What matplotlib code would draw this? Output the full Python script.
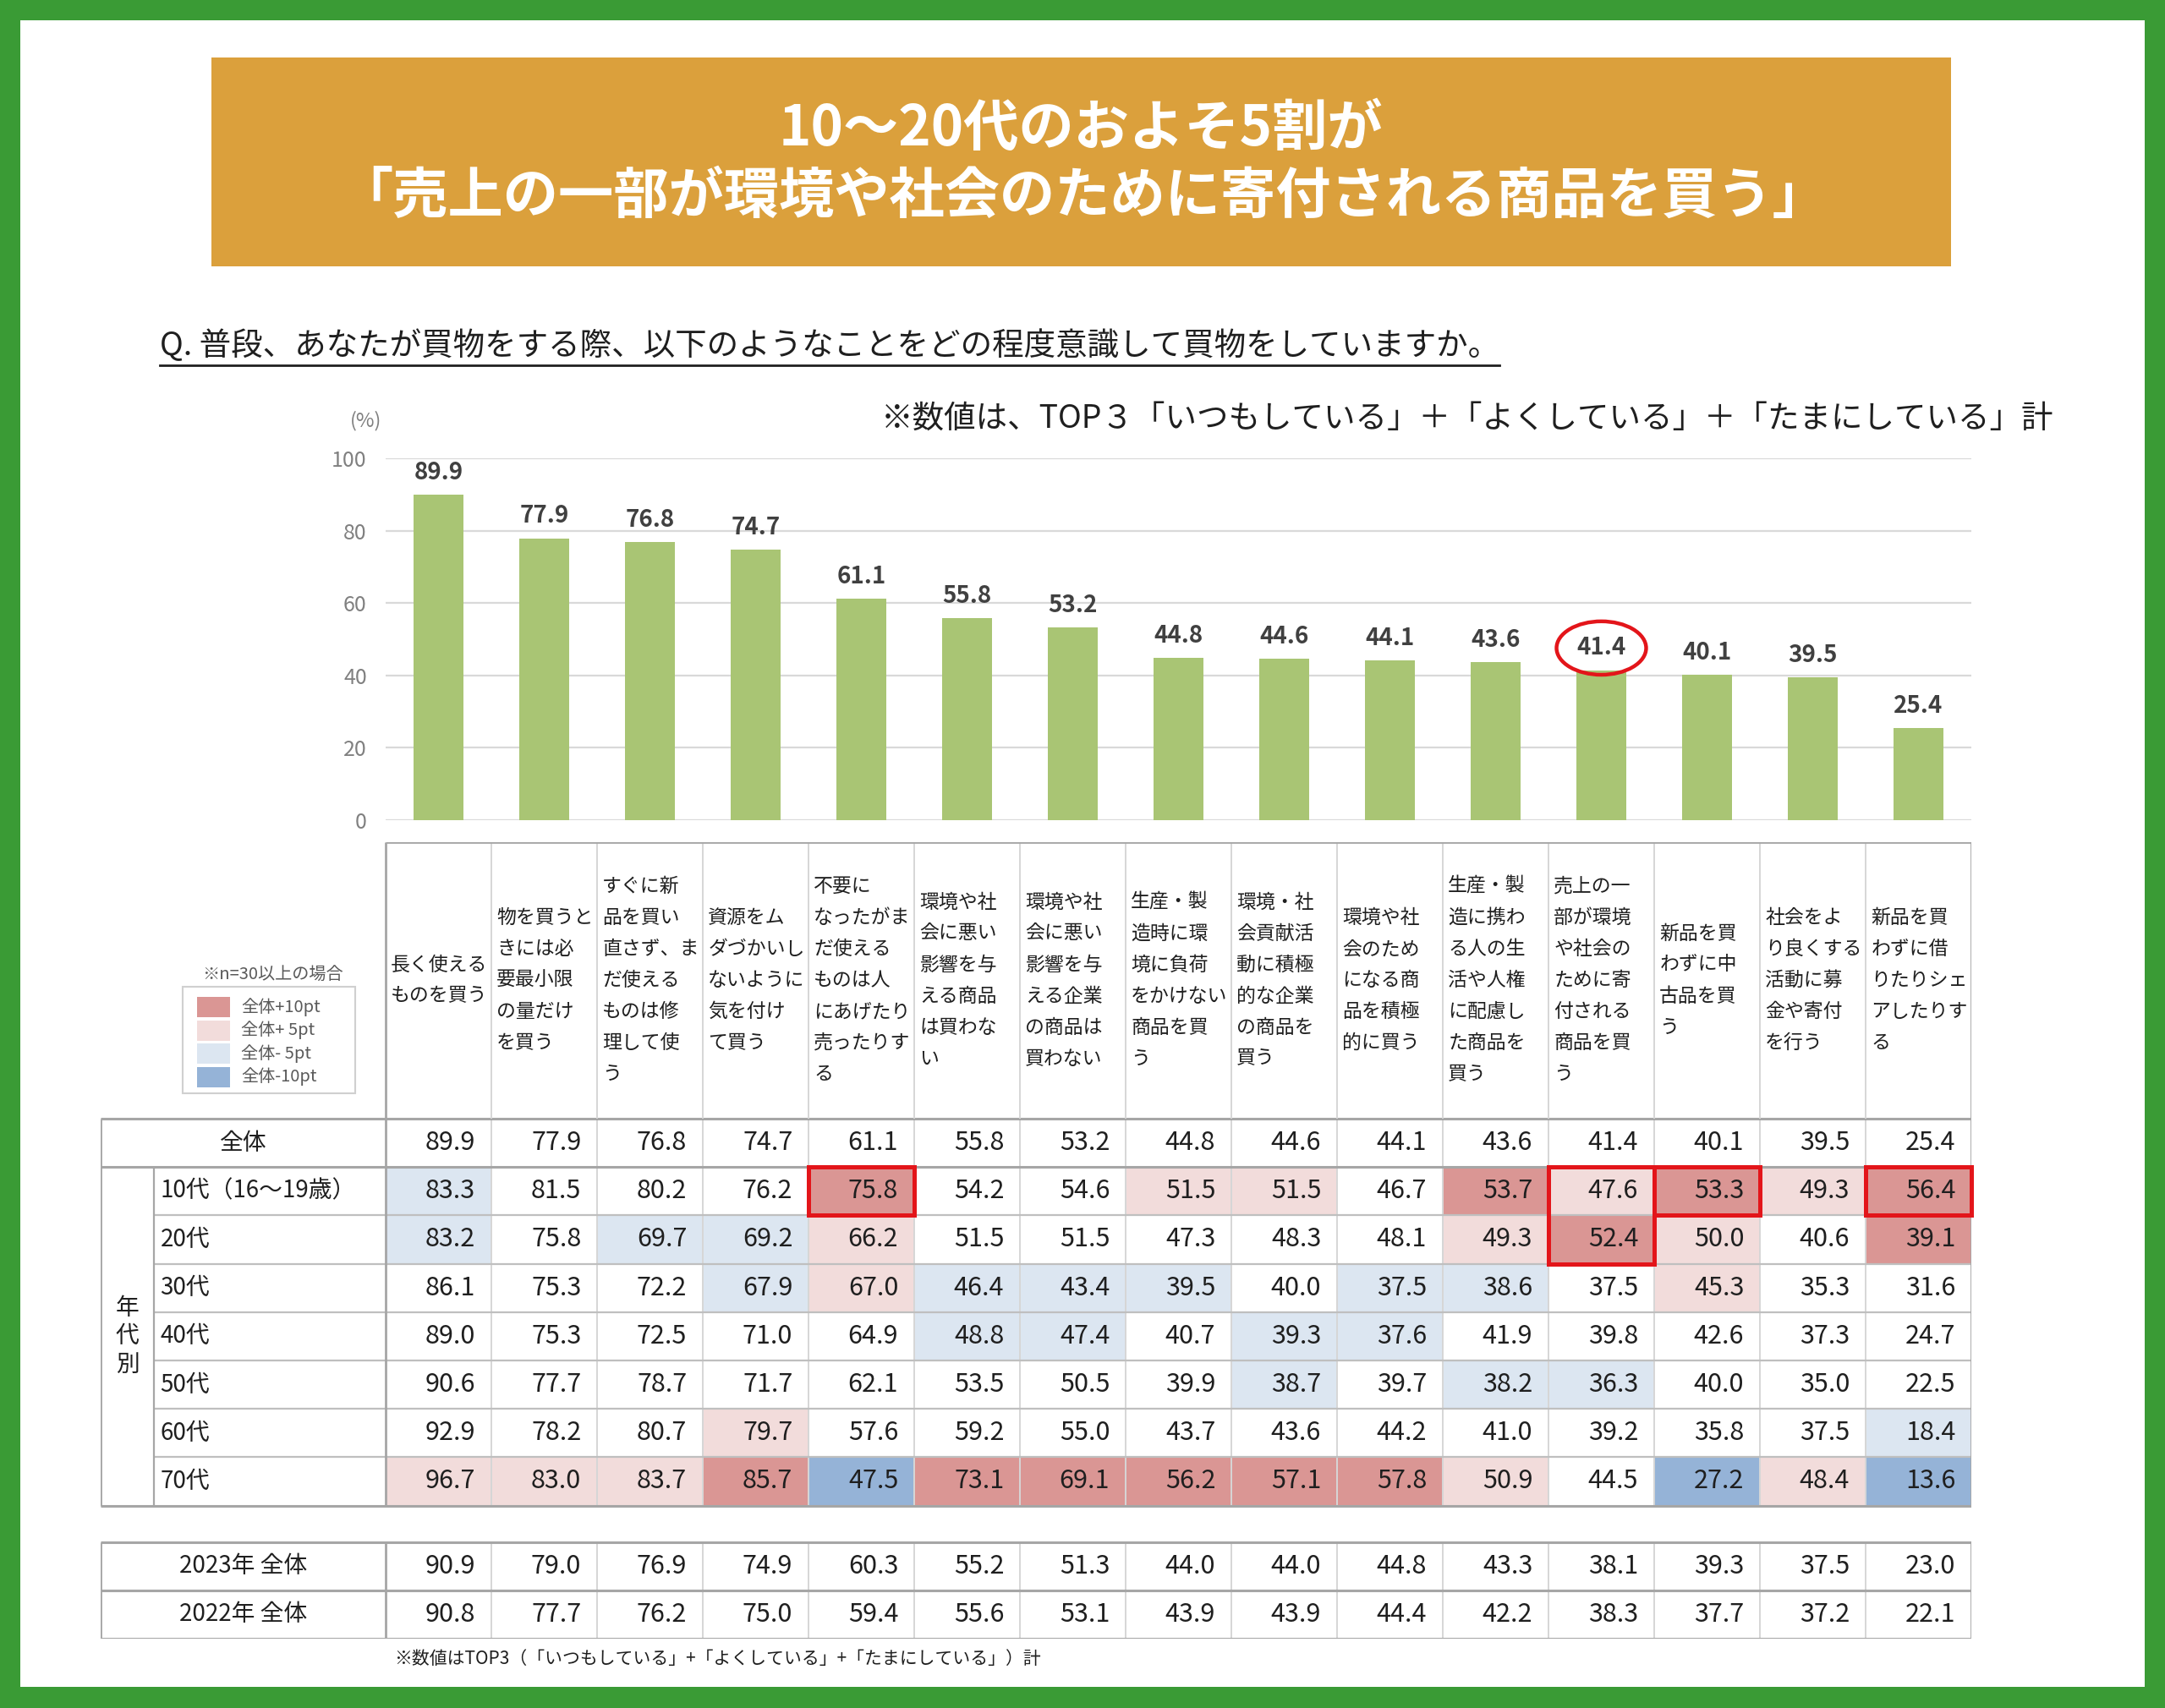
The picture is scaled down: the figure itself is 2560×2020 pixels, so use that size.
import matplotlib
matplotlib.use('Agg')
import matplotlib.pyplot as plt
from matplotlib.patches import Rectangle

plt.rcParams['font.family'] = ['Noto Sans CJK JP', 'DejaVu Sans']

# ---- data ----
items = [
    '長く使える\nものを買う',
    '物を買うと\nきには必\n要最小限\nの量だけ\nを買う',
    'すぐに新\n品を買い\n直さず、ま\nだ使える\nものは修\n理して使\nう',
    '資源をム\nダづかいし\nないように\n気を付け\nて買う',
    '不要に\nなったがま\nだ使える\nものは人\nにあげたり\n売ったりす\nる',
    '環境や社\n会に悪い\n影響を与\nえる商品\nは買わな\nい',
    '環境や社\n会に悪い\n影響を与\nえる企業\nの商品は\n買わない',
    '生産・製\n造時に環\n境に負荷\nをかけない\n商品を買\nう',
    '環境・社\n会貢献活\n動に積極\n的な企業\nの商品を\n買う',
    '環境や社\n会のため\nになる商\n品を積極\n的に買う',
    '生産・製\n造に携わ\nる人の生\n活や人権\nに配慮し\nた商品を\n買う',
    '売上の一\n部が環境\nや社会の\nために寄\n付される\n商品を買\nう',
    '新品を買\nわずに中\n古品を買\nう',
    '社会をよ\nり良くする\n活動に募\n金や寄付\nを行う',
    '新品を買\nわずに借\nりたりシェ\nアしたりす\nる',
]

total = [89.9, 77.9, 76.8, 74.7, 61.1, 55.8, 53.2, 44.8, 44.6, 44.1, 43.6, 41.4, 40.1, 39.5, 25.4]

age_labels = ['10代（16～19歳）', '20代', '30代', '40代', '50代', '60代', '70代']
age_values = [
    [83.3, 81.5, 80.2, 76.2, 75.8, 54.2, 54.6, 51.5, 51.5, 46.7, 53.7, 47.6, 53.3, 49.3, 56.4],
    [83.2, 75.8, 69.7, 69.2, 66.2, 51.5, 51.5, 47.3, 48.3, 48.1, 49.3, 52.4, 50.0, 40.6, 39.1],
    [86.1, 75.3, 72.2, 67.9, 67.0, 46.4, 43.4, 39.5, 40.0, 37.5, 38.6, 37.5, 45.3, 35.3, 31.6],
    [89.0, 75.3, 72.5, 71.0, 64.9, 48.8, 47.4, 40.7, 39.3, 37.6, 41.9, 39.8, 42.6, 37.3, 24.7],
    [90.6, 77.7, 78.7, 71.7, 62.1, 53.5, 50.5, 39.9, 38.7, 39.7, 38.2, 36.3, 40.0, 35.0, 22.5],
    [92.9, 78.2, 80.7, 79.7, 57.6, 59.2, 55.0, 43.7, 43.6, 44.2, 41.0, 39.2, 35.8, 37.5, 18.4],
    [96.7, 83.0, 83.7, 85.7, 47.5, 73.1, 69.1, 56.2, 57.1, 57.8, 50.9, 44.5, 27.2, 48.4, 13.6],
]

year_labels = ['2023年 全体', '2022年 全体']
year_values = [
    [90.9, 79.0, 76.9, 74.9, 60.3, 55.2, 51.3, 44.0, 44.0, 44.8, 43.3, 38.1, 39.3, 37.5, 23.0],
    [90.8, 77.7, 76.2, 75.0, 59.4, 55.6, 53.1, 43.9, 43.9, 44.4, 42.2, 38.3, 37.7, 37.2, 22.1],
]

# (first age row, last age row + 1, column) of the red frames
highlights = [(0, 1, 4), (0, 2, 11), (0, 1, 12), (0, 1, 14)]
# cells left unshaded in the original (age row, column)
no_shade = [(2, 14)]
circled = 11

legend_labels = ['全体+10pt', '全体+ 5pt', '全体- 5pt', '全体-10pt']
legend_colors = ['#DA9694', '#F2DCDB', '#DCE6F1', '#95B3D7']


def cell_color(v, base):
    d = round(v - base, 1)
    if d >= 10:
        return legend_colors[0]
    if d >= 5:
        return legend_colors[1]
    if d <= -10:
        return legend_colors[3]
    if d <= -5:
        return legend_colors[2]
    return None


W, H = 2560, 2020
GREEN = '#3A9B35'
RED = '#E3151A'
TXT = '#1F1F1F'

fig = plt.figure(figsize=(W / 100, H / 100), dpi=100)

# ---- page decorations (pixel coords) ----
page = fig.add_axes([0, 0, 1, 1])
page.set_xlim(0, W)
page.set_ylim(H, 0)
page.axis('off')
page.add_patch(Rectangle((0, 0), W, H, fc=GREEN, ec='none'))
page.add_patch(Rectangle((24, 24), W - 48, 1995 - 24, fc='white', ec='none'))
page.add_patch(Rectangle((250, 68), 2057, 247, fc='#DBA03C', ec='none'))
page.text(1278, 152, '10～20代のおよそ5割が', ha='center', va='center',
          fontsize=47, fontweight='bold', color='white')
page.text(1280, 232, '「売上の一部が環境や社会のために寄付される商品を買う」', ha='center',
          va='center', fontsize=47, fontweight='bold', color='white')

q = page.text(189, 410, 'Q. 普段、あなたが買物をする際、以下のようなことをどの程度意識して買物をしていますか。',
              ha='left', va='center', fontsize=27, color=TXT)
page.text(2428, 495, '※数値は、TOP３「いつもしている」＋「よくしている」＋「たまにしている」計',
          ha='right', va='center', fontsize=27, color=TXT)
page.text(433, 498, '(%)', ha='center', va='center', fontsize=17, color='#808080')

# legend
page.text(322, 1153, '※n=30以上の場合', ha='center', va='center', fontsize=14.5, color='#595959')
page.add_patch(Rectangle((216, 1167), 204, 126, fc='white', ec='#D0D0D0', lw=1.5))
for k, (lab, col) in enumerate(zip(legend_labels, legend_colors)):
    page.add_patch(Rectangle((233, 1179 + 27.5 * k), 39, 24, fc=col, ec='none'))
    page.text(285, 1191 + 27.5 * k, lab, ha='left', va='center', fontsize=14.5, color='#595959')

page.text(466, 1962, '※数値はTOP3（「いつもしている」+「よくしている」+「たまにしている」）計',
          ha='left', va='center', fontsize=15, color=TXT)

# ---- bar chart ----
ax = fig.add_axes([456 / W, 1 - 970 / H, 1875 / W, 428 / H])
ax.patch.set_alpha(0)
x = list(range(len(total)))
ax.bar(x, total, width=0.47, color='#A9C574', zorder=2)
ax.set_xlim(-0.5, len(total) - 0.5)
ax.set_ylim(0, 100)
ax.set_yticks(range(0, 101, 20))
ax.set_xticks([])
ax.grid(axis='y', color='#D9D9D9', lw=1.6)
ax.set_axisbelow(True)
for s in ax.spines.values():
    s.set_visible(False)
ax.tick_params(axis='y', length=0, pad=16, labelsize=18, labelcolor='#808080')
for i, v in enumerate(total):
    kw = {}
    if i == circled:
        kw['bbox'] = dict(boxstyle='ellipse,pad=0.3', fc='none', ec=RED, lw=3.2)
    ax.annotate(f'{v:.1f}', (i, v), xytext=(0, 19), textcoords='offset points',
                ha='center', va='center', fontsize=20, fontweight='bold',
                color='#404040', **kw)

# ---- table ----
ROW_PX = 57.2
HEAD = 327 / ROW_PX
GAP = 43 / ROW_PX
LW = (456 - 119) / 125
AGE_W = 63 / 125
n_age = len(age_values)
y_year = HEAD + 1 + n_age + GAP
y_end = y_year + len(year_values)
ncol = len(total)

tax = fig.add_axes([119 / W, 1 - 1938 / H, (2331 - 119) / W, (1938 - 996) / H])
tax.set_xlim(-LW, ncol)
tax.set_ylim(y_end, 0)
tax.axis('off')

dark = '#A6A6A6'
light = '#D6D6D6'

# header
for i, txt in enumerate(items):
    lines = txt.split('\n')
    n = len(lines)
    for j, line in enumerate(lines):
        yy = HEAD / 2 + (j - (n - 1) / 2) * 0.647
        tax.text(i + 0.05, yy, line, ha='left', va='center', fontsize=16.5, color=TXT)

# cell fills
for r, row in enumerate(age_values):
    for c, v in enumerate(row):
        col = cell_color(v, total[c])
        if col and (r, c) not in no_shade:
            tax.add_patch(Rectangle((c, HEAD + 1 + r), 1, 1, fc=col, ec='none', zorder=0))


def put_row(y, label, vals, lx, ha):
    tax.text(lx, y + 0.5, label, ha=ha, va='center', fontsize=20, color=TXT)
    for c, v in enumerate(vals):
        tax.text(c + 0.85, y + 0.5, f'{v:.1f}', ha='right', va='center', fontsize=22, color=TXT)


put_row(HEAD, '全体', total, -LW / 2, 'center')
for r, (lab, vals) in enumerate(zip(age_labels, age_values)):
    put_row(HEAD + 1 + r, lab, vals, -LW + AGE_W + 0.06, 'left')
for r, (lab, vals) in enumerate(zip(year_labels, year_values)):
    put_row(y_year + r, lab, vals, -LW / 2, 'center')
tax.text(-LW + AGE_W / 2, HEAD + 1 + n_age / 2, '年\n代\n別', ha='center', va='center',
         fontsize=20, color=TXT, linespacing=1.15)

# grid lines
tax.vlines(range(1, ncol), 0, HEAD, color=light, lw=1.4)
tax.vlines([0, ncol], 0, HEAD, color=dark, lw=2)
tax.hlines(0, 0, ncol, color=dark, lw=2)
tax.vlines(range(1, ncol), HEAD, HEAD + 1 + n_age, color=light, lw=1.4, zorder=1)
tax.hlines([HEAD + 1 + k for k in range(1, n_age)], -LW + AGE_W, ncol, color='#BFBFBF', lw=1.6, zorder=1)
tax.hlines([HEAD, HEAD + 1, HEAD + 1 + n_age], -LW, ncol, color=dark, lw=2.2, zorder=1)
tax.vlines([-LW, 0, ncol], HEAD, HEAD + 1 + n_age, color=dark, lw=2, zorder=1)
tax.vlines(-LW + AGE_W, HEAD + 1, HEAD + 1 + n_age, color=dark, lw=1.6, zorder=1)
tax.vlines(range(1, ncol), y_year, y_end, color=light, lw=1.4)
tax.hlines([y_year, y_year + 1, y_end], -LW, ncol, color=dark, lw=2.2)
tax.vlines([-LW, 0, ncol], y_year, y_end, color=dark, lw=2)

for r0, r1, c in highlights:
    tax.add_patch(Rectangle((c, HEAD + 1 + r0), 1, r1 - r0, fill=False, ec=RED, lw=3.6,
                            zorder=5, clip_on=False))

# underline under the question
fig.canvas.draw()
bb = q.get_window_extent()
inv = page.transData.inverted()
(ux0, uy), (ux1, _) = inv.transform([(bb.x0, bb.y0), (bb.x1, bb.y0)])
page.plot([ux0, ux1], [uy + 2, uy + 2], color=TXT, lw=2)

fig.savefig('out.png', dpi=100)
